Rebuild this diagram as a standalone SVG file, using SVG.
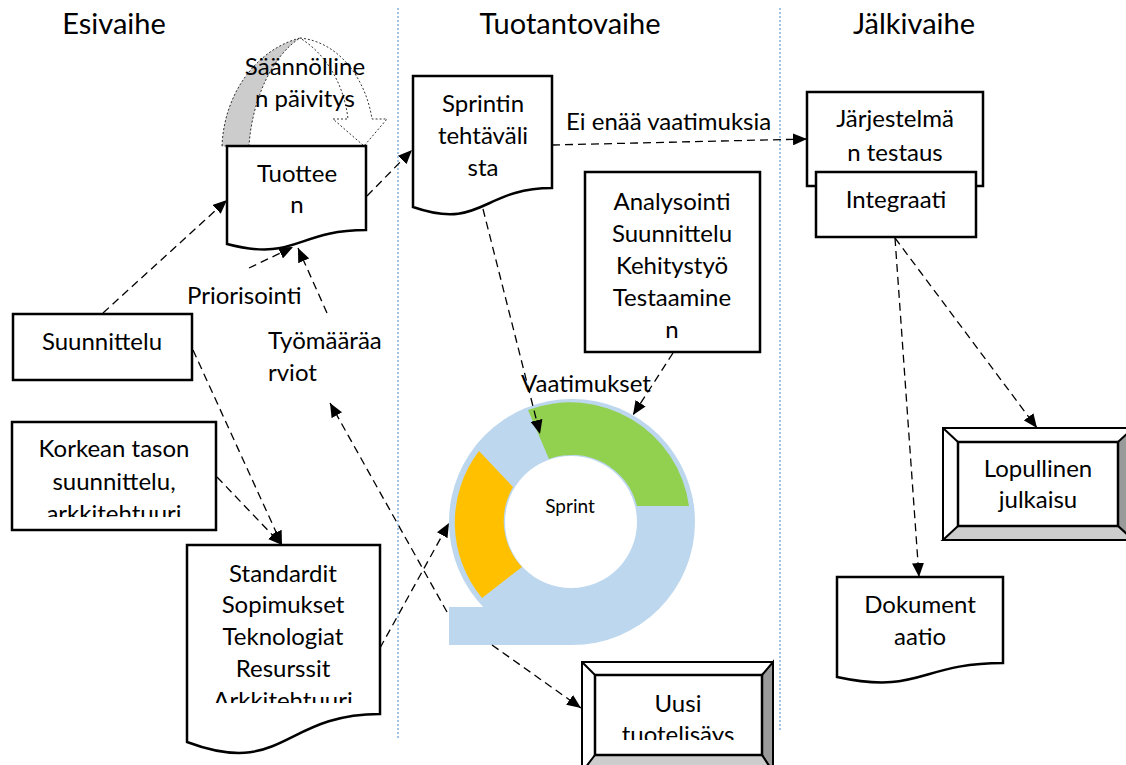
<svg xmlns="http://www.w3.org/2000/svg" width="1126" height="765" viewBox="0 0 1126 765">
  <defs>
    <style>
      text { font-family: Lato, "Liberation Sans", sans-serif; fill: #000; }
      .t { font-size: 24px; text-anchor: middle; }
      .hd { font-size: 29px; text-anchor: middle; }
      .box { fill: #fff; stroke: #000; stroke-width: 2.5; }
      .lane { stroke: #7fb0de; stroke-width: 1.5; stroke-dasharray: 2 2; fill: none; }
      .con { fill: none; stroke: #000; stroke-width: 1.3; stroke-dasharray: 8 5; }
      .arr { marker-end: url(#ah); }
      .bevL { fill: #fff; stroke: #000; stroke-width: 2; }
      .bevR { fill: #9a9a9a; stroke: #000; stroke-width: 2; }
      .bevB { fill: #cdcdcd; stroke: #000; stroke-width: 2; }
    </style>
    <marker id="ah" viewBox="0 0 14 12" refX="14" refY="6" markerWidth="14" markerHeight="12" markerUnits="userSpaceOnUse" orient="auto">
      <path d="M0,0 L14,6 L0,12 Z" fill="#000"/>
    </marker>
    <clipPath id="clipKorkea"><rect x="12" y="422" width="204" height="95"/></clipPath>
    <clipPath id="clipStd"><rect x="187" y="545" width="193" height="158"/></clipPath>
    <clipPath id="clipUusi"><rect x="595" y="675" width="167" height="65"/></clipPath>
  </defs>

  <!-- phase headers and lane separators -->
  <g id="phases">
    <text class="hd" x="114" y="34">Esivaihe</text>
    <text class="hd" x="570" y="34">Tuotantovaihe</text>
    <text class="hd" x="914" y="34">Jälkivaihe</text>
    <line class="lane" x1="398" y1="8" x2="398" y2="738"/>
    <line class="lane" x1="780" y1="8" x2="780" y2="732"/>
  </g>

  <!-- sprint cycle ring -->
  <g id="sprint">
    <circle cx="572" cy="522" r="123" fill="#bdd7ee"/>
    <rect x="449" y="607" width="123" height="38" fill="#bdd7ee"/>
    <circle cx="571" cy="522" r="66" fill="#fff"/>
    <path d="M528,410 A120,120 0 0 1 689,506 L637,506 A67,67 0 0 0 549,459 Z" fill="#92d050"/>
    <path d="M479,451 A118,118 0 0 0 482,598 L522,567 A67,67 0 0 1 513,487 Z" fill="#ffc000"/>
    <text x="570" y="513" style="font-size:19px;text-anchor:middle">Sprint</text>
    <text x="586" y="392" style="font-size:24px;text-anchor:middle">Vaatimukset</text>
  </g>

  <!-- regular update loop arrow -->
  <g id="update">
    <path d="M222,146 C224,95 255,50 300,38 C272,56 252,100 249,146 Z" fill="#cccccc" stroke="#000" stroke-width="0.8" stroke-dasharray="2 2"/>
    <path d="M300,38 C340,42 366,80 372,119 L387,119 L364,146 L333,119 L348,119 C344,84 326,54 300,38 Z" fill="none" stroke="#000" stroke-width="0.8" stroke-dasharray="2 2"/>
    <text class="t" x="305" y="75">Säännölline</text>
    <text class="t" x="305" y="107">n päivitys</text>
  </g>

  <g id="tuotteen">
    <path class="box" d="M227,146 H366 V230 C296,230 296,262 227,244 Z"/>
    <text class="t" x="297" y="182">Tuottee</text>
    <text class="t" x="297" y="213">n</text>
  </g>

  <g id="sprintin">
    <path class="box" d="M413,76 H552 V188 C482,188 482,231 413,207 Z"/>
    <text class="t" x="483" y="112">Sprintin</text>
    <text class="t" x="483" y="144">tehtäväli</text>
    <text class="t" x="483" y="176">sta</text>
  </g>

  <g id="jarjestelma">
    <rect class="box" x="807" y="92" width="176" height="94"/>
    <text class="t" x="895" y="127">Järjestelmä</text>
    <text class="t" x="895" y="161">n testaus</text>
  </g>

  <g id="integraati">
    <rect class="box" x="816" y="172" width="160" height="65"/>
    <text class="t" x="896" y="208">Integraati</text>
  </g>

  <g id="analysointi">
    <rect class="box" x="585" y="172" width="175" height="180"/>
    <text class="t" x="672" y="210">Analysointi</text>
    <text class="t" x="672" y="242">Suunnittelu</text>
    <text class="t" x="672" y="274">Kehitystyö</text>
    <text class="t" x="672" y="306">Testaamine</text>
    <text class="t" x="672" y="338">n</text>
  </g>

  <g id="suunnittelu">
    <rect class="box" x="13" y="314" width="179" height="66"/>
    <text class="t" x="102" y="350">Suunnittelu</text>
  </g>

  <g id="korkea">
    <rect class="box" x="12" y="422" width="204" height="108"/>
    <g clip-path="url(#clipKorkea)">
      <text class="t" x="114" y="457">Korkean tason</text>
      <text class="t" x="114" y="490">suunnittelu,</text>
      <text class="t" x="114" y="522">arkkitehtuuri</text>
    </g>
  </g>

  <g id="standardit">
    <path class="box" d="M187,545 H380 V714 C283,714 283,778 187,742 Z"/>
    <g clip-path="url(#clipStd)">
      <text class="t" x="283" y="582">Standardit</text>
      <text class="t" x="283" y="613">Sopimukset</text>
      <text class="t" x="283" y="645">Teknologiat</text>
      <text class="t" x="283" y="677">Resurssit</text>
      <text class="t" x="283" y="709">Arkkitehtuuri</text>
    </g>
  </g>

  <g id="tyomaara">
    <text style="font-size:24px" x="268" y="349">Työmääräa</text>
    <text style="font-size:24px" x="268" y="381">rviot</text>
  </g>

  <g id="priorisointi">
    <text style="font-size:24px" x="187" y="304">Priorisointi</text>
  </g>

  <g id="lopullinen">
    <rect class="bevL" x="943" y="428" width="190" height="112"/>
    <path class="bevR" d="M1118,442 L1133,428 L1133,540 L1118,526 Z"/>
    <path class="bevB" d="M943,540 L958,526 L1118,526 L1133,540 Z"/>
    <line x1="943" y1="428" x2="958" y2="442" stroke="#000" stroke-width="2"/>
    <rect class="box" x="958" y="442" width="160" height="84"/>
    <text class="t" x="1038" y="477">Lopullinen</text>
    <text class="t" x="1038" y="508">julkaisu</text>
  </g>

  <g id="dokumentaatio">
    <path class="box" d="M837,577 H1003 V663 C920,663 920,695 837,677 Z"/>
    <text class="t" x="920" y="613">Dokument</text>
    <text class="t" x="920" y="645">aatio</text>
  </g>

  <g id="uusi">
    <rect class="bevL" x="582" y="662" width="191" height="110"/>
    <path class="bevR" d="M762,675 L773,662 L773,772 L762,755 Z"/>
    <path class="bevB" d="M582,772 L595,755 L762,755 L773,772 Z"/>
    <line x1="582" y1="662" x2="595" y2="675" stroke="#000" stroke-width="2"/>
    <rect class="box" x="595" y="675" width="167" height="80"/>
    <g clip-path="url(#clipUusi)">
      <text class="t" x="678" y="712">Uusi</text>
      <text class="t" x="678" y="743">tuotelisäys</text>
    </g>
  </g>

  <!-- connectors -->
  <g id="connectors">
    <line class="con arr" x1="103" y1="313" x2="227" y2="200"/>
    <line class="con arr" x1="249" y1="268" x2="293" y2="247"/>
    <line class="con arr" x1="327" y1="313" x2="298" y2="248"/>
    <line class="con arr" x1="367" y1="196" x2="412" y2="150"/>
    <line class="con arr" x1="552" y1="145" x2="807" y2="139"/>
    <text x="566" y="130" style="font-size:24px">Ei enää vaatimuksia</text>
    <line class="con arr" x1="483" y1="209" x2="540" y2="434"/>
    <line class="con arr" x1="673" y1="353" x2="633" y2="415"/>
    <line class="con arr" x1="193" y1="350" x2="282" y2="545"/>
    <line class="con arr" x1="217" y1="477" x2="282" y2="545"/>
    <line class="con arr" x1="380" y1="648" x2="449" y2="523"/>
    <line class="con arr" x1="447" y1="612" x2="330" y2="403"/>
    <line class="con arr" x1="492" y1="645" x2="581" y2="708"/>
    <line class="con arr" x1="895" y1="238" x2="1037" y2="428"/>
    <line class="con arr" x1="895" y1="238" x2="919" y2="577"/>
  </g>
</svg>
